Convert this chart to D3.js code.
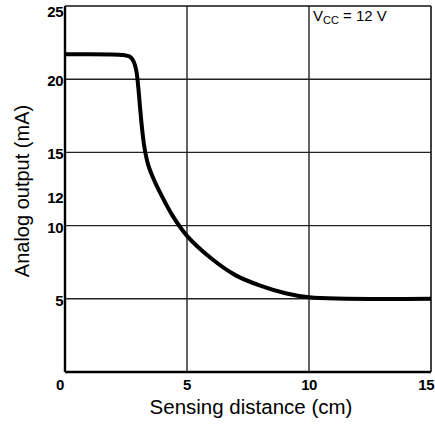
<!DOCTYPE html>
<html>
<head>
<meta charset="utf-8">
<script src="https://cdn.jsdelivr.net/npm/d3@7"></script>
<style>
  body { margin: 0; background: #fff; }
  svg text { font-family: "Liberation Sans", Arial, sans-serif; }
</style>
</head>
<body>
<script>
// curve
var distance = [0, 2.4, 2.65, 2.8, 2.92, 3.0, 3.08, 3.16, 3.25, 3.4, 3.6, 3.85, 4.4, 5, 6, 7, 8, 9, 10, 15];
var output   = [21.7, 21.65, 21.55, 21.25, 20.6, 19.5, 18.0, 16.6, 15.4, 14.2, 13.3, 12.4, 10.7, 9.3, 7.75, 6.6, 5.9, 5.4, 5.1, 5.0];

var xTicks = [0, 5, 10, 15];
var yTicks = [5, 10, 12, 15, 20, 25];
var yGrid = [5, 10, 15, 20];

window.onload = drawChart;

function drawChart(){
    var width = 435, height = 424;
    var left = 65, right = 431, top = 6, bottom = 372;

    var svg = d3.select("body")
        .append("svg")
        .attr("width", width)
        .attr("height", height);

    var x = d3.scaleLinear().domain([0, 15]).range([left, right]);
    var y = d3.scaleLinear().domain([0, 25]).range([bottom, top]);

    // grid
    svg.selectAll(".hgrid")
        .data(yGrid)
        .enter()
        .append("line")
        .attr("x1", left).attr("x2", right)
        .attr("y1", d => y(d)).attr("y2", d => y(d))
        .attr("stroke", "#222").attr("stroke-width", 1.4);

    svg.selectAll(".vgrid")
        .data([5, 10])
        .enter()
        .append("line")
        .attr("x1", d => x(d)).attr("x2", d => x(d))
        .attr("y1", top).attr("y2", bottom)
        .attr("stroke", "#222").attr("stroke-width", 1.4);

    // frame
    svg.append("line").attr("x1", left).attr("x2", right).attr("y1", top).attr("y2", top)
        .attr("stroke", "#111").attr("stroke-width", 1.6);
    svg.append("line").attr("x1", right).attr("x2", right).attr("y1", top).attr("y2", bottom)
        .attr("stroke", "#111").attr("stroke-width", 1.6);
    svg.append("line").attr("x1", left).attr("x2", left).attr("y1", top).attr("y2", bottom)
        .attr("stroke", "#000").attr("stroke-width", 2.4);
    svg.append("line").attr("x1", left).attr("x2", right).attr("y1", bottom).attr("y2", bottom)
        .attr("stroke", "#000").attr("stroke-width", 2.4);

    // curve
    var line = d3.line()
        .x((d, i) => x(distance[i]))
        .y(d => y(d))
        .curve(d3.curveCatmullRom.alpha(0.5));

    svg.append("path")
        .datum(output)
        .attr("d", line)
        .attr("fill", "none")
        .attr("stroke", "#000")
        .attr("stroke-width", 4)
        .attr("stroke-linejoin", "round");

    // tick labels
    svg.selectAll(".ytick")
        .data(yTicks)
        .enter()
        .append("text")
        .attr("x", left - 2)
        .attr("y", d => Math.max(y(d) + 7, 17))
        .attr("text-anchor", "end")
        .attr("font-size", 15)
        .attr("font-weight", "bold")
        .attr("letter-spacing", -0.5)
        .text(d => d);

    svg.selectAll(".xtick")
        .data(xTicks)
        .enter()
        .append("text")
        .attr("x", d => x(d))
        .attr("y", bottom + 18)
        .attr("text-anchor", d => d === 15 ? "end" : "middle")
        .attr("dx", d => d === 0 ? -5 : (d === 15 ? 3 : 0))
        .attr("font-size", 15)
        .attr("font-weight", "bold")
        .attr("letter-spacing", -0.5)
        .text(d => d);

    // axis titles
    svg.append("text")
        .attr("x", 251)
        .attr("y", 414)
        .attr("text-anchor", "middle")
        .attr("font-size", 20.5)
        .text("Sensing distance (cm)");

    svg.append("text")
        .attr("transform", "translate(29,191) rotate(-90)")
        .attr("text-anchor", "middle")
        .attr("font-size", 20)
        .text("Analog output (mA)");

    // supply note
    var note = svg.append("text")
        .attr("x", x(10) + 4)
        .attr("y", 21)
        .attr("font-size", 15);
    note.append("tspan").text("V");
    note.append("tspan").attr("font-size", 11).attr("dy", 3).text("CC");
    note.append("tspan").attr("dy", -3).text(" = 12 V");
}
</script>
</body>
</html>
